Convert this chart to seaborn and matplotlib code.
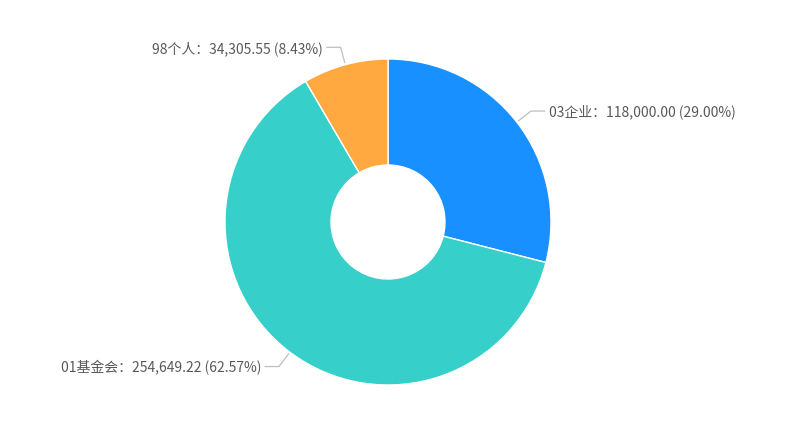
import numpy as np
import matplotlib
matplotlib.use("Agg")
import matplotlib.pyplot as plt
import seaborn as sns

sns.set_theme(style="white")
plt.rcParams['font.family'] = ['Noto Sans CJK SC', 'DejaVu Sans']

# data
categories = ['03企业', '01基金会', '98个人']
values = [118000.00, 254649.22, 34305.55]
colors = ['#1890FF', '#36CFC9', '#FFA940']

W, H = 800, 424
cx, cy = 388, H - 222
r_out, r_in = 163, 57

fig = plt.figure(figsize=(W / 100, H / 100), dpi=100)
ax = fig.add_axes([0, 0, 1, 1])

wedges, _ = ax.pie(values, colors=colors, startangle=90, counterclock=False,
                   radius=r_out, center=(cx, cy),
                   wedgeprops=dict(width=r_out - r_in, edgecolor='white', linewidth=1))
# pie() resets the limits, so set them afterwards (pixel units)
ax.set_xlim(0, W)
ax.set_ylim(0, H)
ax.set_aspect('equal')
ax.axis('off')

total = sum(values)
for w, name, v in zip(wedges, categories, values):
    ang = np.deg2rad((w.theta1 + w.theta2) / 2)
    x0, y0 = cx + (r_out + 2) * np.cos(ang), cy + (r_out + 2) * np.sin(ang)
    x1, y1 = cx + (r_out + 18) * np.cos(ang), cy + (r_out + 18) * np.sin(ang)
    side = 1 if np.cos(ang) >= 0 else -1
    x2 = x1 + side * 14
    ax.plot([x0, x1, x2], [y0, y1, y1], color='#bfbfbf', lw=0.9)
    txt = f'{name}：{v:,.2f} ({v / total * 100:.2f}%)'
    ax.text(x2 + side * 4, y1 - 1, txt, ha='left' if side > 0 else 'right',
            va='center', fontsize=10, color='#595959')

fig.savefig('out.png', dpi=100, facecolor='white')
